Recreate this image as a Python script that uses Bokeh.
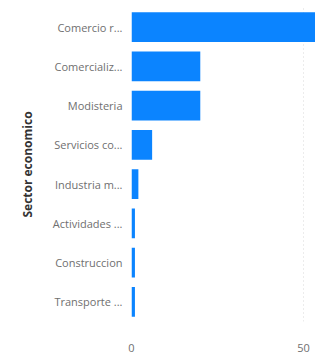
from bokeh.plotting import figure
from bokeh.models import FactorRange, Range1d, FixedTicker, ColumnDataSource
from bokeh.embed import file_html
from bokeh.resources import INLINE

sectores = ["Comercio r...", "Comercializ...", "Modisteria", "Servicios co...",
            "Industria m...", "Actividades ...", "Construccion", "Transporte ..."]
valores = [60, 20, 20, 6, 2, 1, 1, 1]
x_ticks = [0, 50]

src = ColumnDataSource(dict(sector=sectores, valor=valores))

p = figure(width=315, height=354, output_backend="svg", toolbar_location=None,
           y_range=FactorRange(factors=list(reversed(sectores)), range_padding=0),
           x_range=Range1d(0, 53.5),
           min_border_left=131, min_border_right=0, min_border_top=7, min_border_bottom=30)

p.hbar(y="sector", right="valor", left=0, height=0.76, source=src,
       color="#0B84FF", line_color=None)

p.outline_line_color = None
p.background_fill_color = "white"
p.border_fill_color = "white"

p.ygrid.grid_line_color = None
p.xgrid.ticker = FixedTicker(ticks=x_ticks)
p.xgrid.grid_line_color = "#d8d8d8"
p.xgrid.grid_line_dash = "1 3"

p.xaxis.ticker = FixedTicker(ticks=x_ticks)
p.xaxis.axis_line_color = None
p.xaxis.major_tick_line_color = None
p.xaxis.minor_tick_line_color = None
p.xaxis.major_label_text_font = "Open Sans"
p.xaxis.major_label_text_font_size = "11px"
p.xaxis.major_label_text_color = "#6f6f6f"
p.xaxis.major_label_standoff = 16

p.yaxis.axis_line_color = None
p.yaxis.major_tick_line_color = None
p.yaxis.minor_tick_line_color = None
p.yaxis.major_label_text_font = "Open Sans"
p.yaxis.major_label_text_font_size = "11px"
p.yaxis.major_label_text_color = "#6f6f6f"
p.yaxis.major_label_standoff = 3
p.yaxis.axis_label = "Sector economico"
p.yaxis.axis_label_text_font = "Open Sans"
p.yaxis.axis_label_text_font_style = "bold"
p.yaxis.axis_label_text_font_size = "12px"
p.yaxis.axis_label_text_color = "#333333"
p.yaxis.axis_label_standoff = 14

open("out.html", "w").write(file_html(p, INLINE))
